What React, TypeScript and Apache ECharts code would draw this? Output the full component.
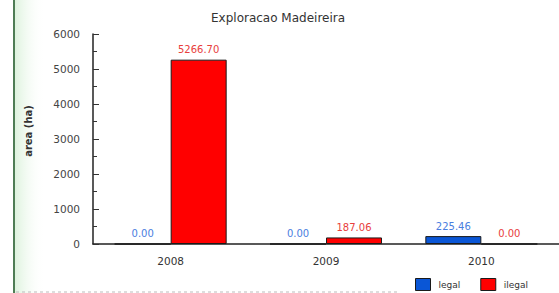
import React, { useEffect, useRef } from "react";
import * as echarts from "echarts";

const categories = ["2008", "2009", "2010"];
const legalValues = [0, 0, 225.46];
const ilegalValues = [5266.7, 187.06, 0];
const seriesNames = ["legal", "ilegal"];
const titleText = "Exploracao Madeireira";
const yAxisName = "area (ha)";

export default function App() {
  const ref = useRef<HTMLDivElement>(null);
  useEffect(() => {
    if (!ref.current) return;
    const chart = echarts.init(ref.current, null, { renderer: "svg" });
    const font = "DejaVu Sans";
    const labelFmt = (p: any) => Number(p.value).toFixed(2);
    chart.setOption({
      animation: false,
      backgroundColor: "#ffffff",
      textStyle: { fontFamily: font },
      title: {
        text: titleText,
        left: 211,
        top: 12,
        padding: 0,
        textStyle: { fontFamily: font, fontSize: 12, fontWeight: "normal", color: "#333333" },
      },
      legend: {
        left: 415,
        top: 278,
        padding: 0,
        itemWidth: 15,
        itemHeight: 12,
        itemGap: 20,
        icon: "rect",
        itemStyle: { borderColor: "#1a1a1a", borderWidth: 1 },
        textStyle: { fontFamily: font, fontSize: 9, color: "#333333", padding: [0, 0, 0, 3] },
        data: seriesNames,
      },
      grid: { left: 93, top: 34, width: 474, height: 210 },
      xAxis: {
        type: "category",
        data: categories,
        axisLine: { lineStyle: { color: "#222222", width: 1.5 } },
        axisTick: { inside: true, length: 6, lineStyle: { color: "#444444" } },
        axisLabel: { fontFamily: font, fontSize: 10.5, color: "#333333", margin: 11 },
      },
      yAxis: {
        type: "value",
        min: 0,
        max: 6000,
        interval: 1000,
        axisLine: { show: true, lineStyle: { color: "#222222", width: 1.5 } },
        axisTick: { show: true, inside: true, length: 6, lineStyle: { color: "#333333" } },
        minorTick: { show: true, splitNumber: 2, length: 4, lineStyle: { color: "#333333" } },
        splitLine: { show: false },
        axisLabel: {
          fontFamily: font,
          fontSize: 10.5,
          color: "#444444",
          margin: 13,
          formatter: (v: number) => String(v),
        },
      },
      series: [
        {
          name: seriesNames[0],
          type: "bar",
          data: legalValues,
          barWidth: 56,
          barGap: "0%",
          itemStyle: { color: "#0a56d6", borderColor: "#1a1a1a", borderWidth: 1 },
          label: { show: true, position: "top", distance: 5, formatter: labelFmt, color: "#4a7ee0", fontSize: 10, fontFamily: font },
        },
        {
          name: seriesNames[1],
          type: "bar",
          data: ilegalValues,
          barWidth: 56,
          barGap: "0%",
          itemStyle: { color: "#ff0000", borderColor: "#1a1a1a", borderWidth: 1 },
          label: { show: true, position: "top", distance: 5, formatter: labelFmt, color: "#e8403c", fontSize: 10, fontFamily: font },
        },
      ],
      graphic: [
        {
          type: "rect",
          shape: { x: 15, y: 0, width: 30, height: 293 },
          style: {
            fill: new echarts.graphic.LinearGradient(0, 0, 1, 0, [
              { offset: 0, color: "rgba(200,235,200,0.6)" },
              { offset: 1, color: "rgba(255,255,255,0)" },
            ]),
          },
          silent: true,
          z: -1,
        },
        {
          type: "line",
          shape: { x1: 14, y1: 0, x2: 14, y2: 293 },
          style: { stroke: "#4f7d55", lineWidth: 2 },
          silent: true,
        },
        {
          type: "line",
          shape: { x1: 16, y1: 292, x2: 400, y2: 292 },
          style: { stroke: "#bbbbbb", lineWidth: 1, lineDash: [3, 3] },
          silent: true,
        },
        {
          type: "text",
          x: 28,
          y: 131,
          rotation: Math.PI / 2,
          style: {
            text: yAxisName,
            fontFamily: font,
            fontSize: 10,
            fontWeight: "bold",
            fill: "#333333",
            align: "center",
            verticalAlign: "middle",
          },
          silent: true,
        },
      ],
    });
    return () => chart.dispose();
  }, []);
  return (
    <div
      ref={ref}
      style={{ position: "fixed", left: 0, top: 0, width: 559, height: 293 }}
    />
  );
}
